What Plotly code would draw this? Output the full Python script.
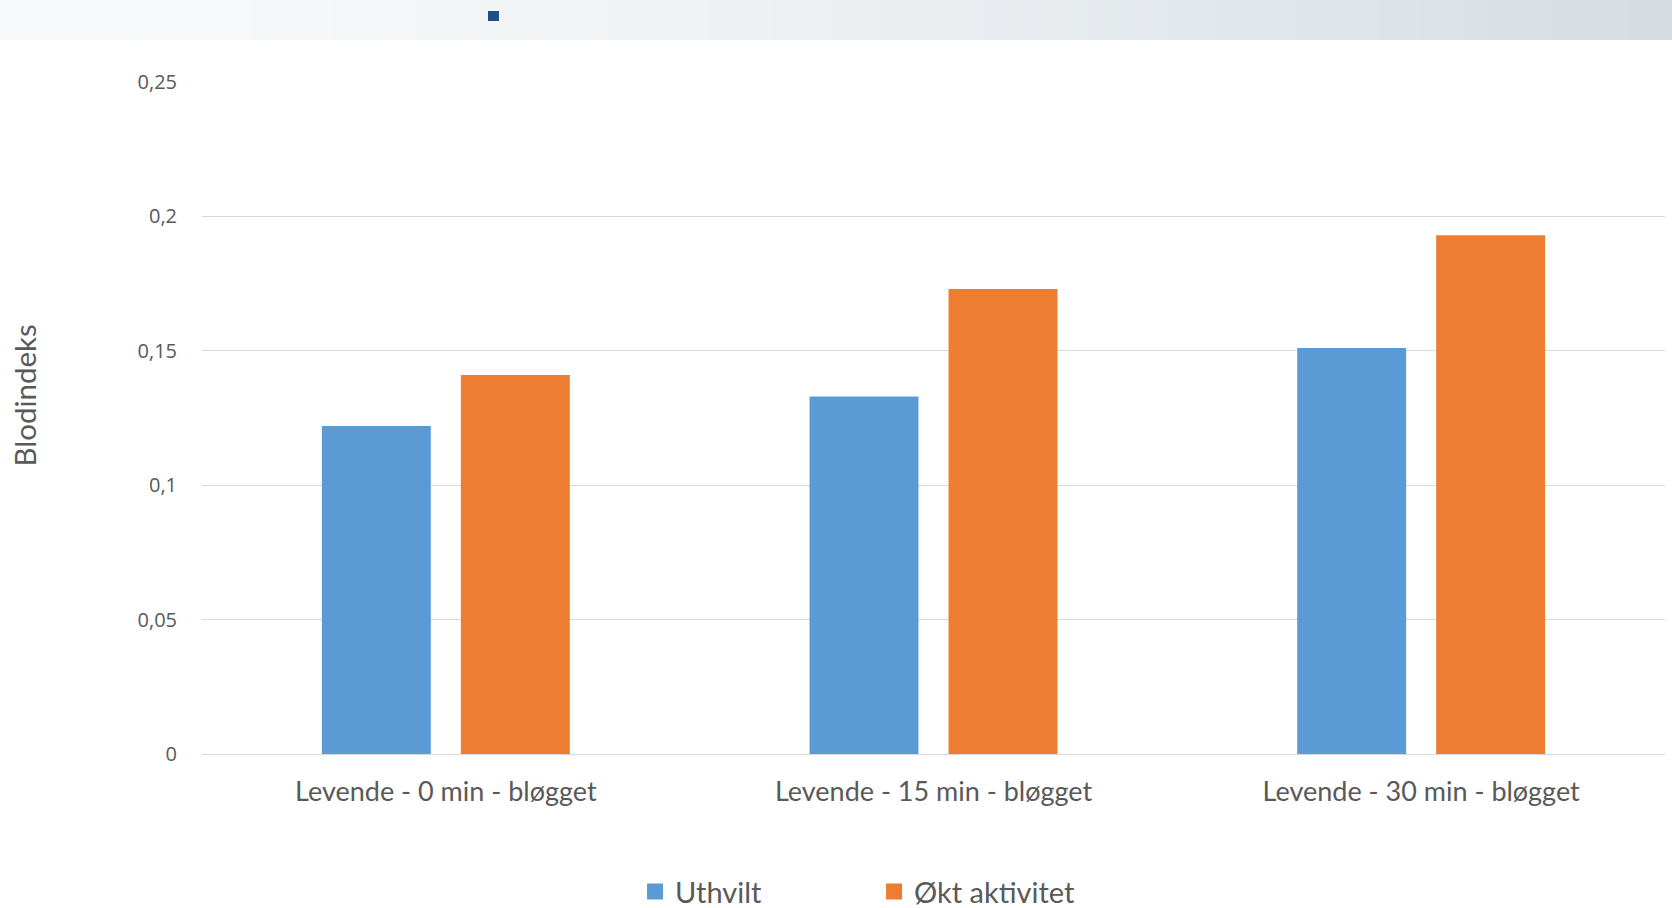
import plotly.graph_objects as go

categories = ["Levende - 0 min - bløgget", "Levende - 15 min - bløgget", "Levende - 30 min - bløgget"]
uthvilt = [0.122, 0.133, 0.151]
okt_aktivitet = [0.141, 0.173, 0.193]
series_names = ["Uthvilt", "Økt aktivitet"]
series_colors = ["#5b9bd5", "#ed7d31"]
y_ticks = [0, 0.05, 0.1, 0.15, 0.2, 0.25]
y_title = "Blodindeks"

W, H = 1672, 908
ML, MR, MT, MB = 202, 7, 82, 154
GRAY_TXT = "#595959"
LABEL_FONT = "Lato, Open Sans, sans-serif"

fig = go.Figure()
for name, vals, col in zip(series_names, [uthvilt, okt_aktivitet], series_colors):
    fig.add_trace(go.Bar(x=categories, y=vals, name=name, showlegend=False,
                         marker=dict(color=col, line=dict(width=0))))
# legend entries with larger square swatches
for name, col in zip(series_names, series_colors):
    fig.add_trace(go.Scatter(x=[None], y=[None], mode="markers", name=name,
                             marker=dict(symbol="square", size=16, color=col)))

# header band: horizontal gradient built from thin strips
shapes = []
n = 80
c0 = (247, 249, 250)
c1 = (213, 220, 226)
pw = W - ML - MR
ph = H - MT - MB
band_h = 40
for i in range(n):
    t = i / (n - 1)
    t2 = t ** 1.6
    col = tuple(round(c0[k] + (c1[k] - c0[k]) * t2) for k in range(3))
    x0 = (i * W / n - ML) / pw
    x1 = ((i + 1) * W / n - ML) / pw + 0.0005
    shapes.append(dict(type="rect", xref="paper", yref="paper",
                       x0=x0, x1=x1, y0=1 + (MT - band_h) / ph, y1=1 + MT / ph,
                       fillcolor="rgb(%d,%d,%d)" % col, line=dict(width=0), layer="below"))
shapes.append(dict(type="rect", xref="paper", yref="paper",
                   x0=(488 - ML) / pw, x1=(499 - ML) / pw,
                   y0=1 + (MT - 21) / ph, y1=1 + (MT - 11) / ph,
                   fillcolor="#1f4e89", line=dict(width=0)))

fig.update_layout(
    width=W, height=H,
    margin=dict(l=ML, r=MR, t=MT, b=MB, autoexpand=False),
    paper_bgcolor="white", plot_bgcolor="white",
    separators=",.",
    barmode="group", bargap=0.43, bargroupgap=0.216,
    font=dict(family="Open Sans, sans-serif", color=GRAY_TXT),
    shapes=shapes,
    showlegend=True,
    legend=dict(orientation="h", x=0.296, xanchor="left", y=-0.205, yanchor="middle",
                font=dict(family=LABEL_FONT, size=29, color=GRAY_TXT),
                entrywidth=194, entrywidthmode="pixels", itemsizing="trace",
                tracegroupgap=0, bgcolor="rgba(0,0,0,0)", itemclick=False),
    annotations=[dict(text=y_title, textangle=-90, xref="paper", yref="paper",
                      x=(23.5 - ML) / pw, y=(H - MB - 396) / ph,
                      xanchor="center", yanchor="middle", showarrow=False,
                      font=dict(family=LABEL_FONT, size=29.5, color=GRAY_TXT))],
)
fig.update_xaxes(showgrid=False, showline=False, ticks="",
                 tickfont=dict(family=LABEL_FONT, size=27, color=GRAY_TXT), ticklabelstandoff=19)
fig.update_yaxes(range=[0, 0.25], tickvals=y_ticks, showline=False, zeroline=True,
                 zerolinecolor="#d9d9d9", zerolinewidth=1.3,
                 gridcolor="#d9d9d9", gridwidth=1.3, ticks="",
                 tickfont=dict(size=20, color=GRAY_TXT), ticklabelstandoff=24)

fig.write_html("out.html")
